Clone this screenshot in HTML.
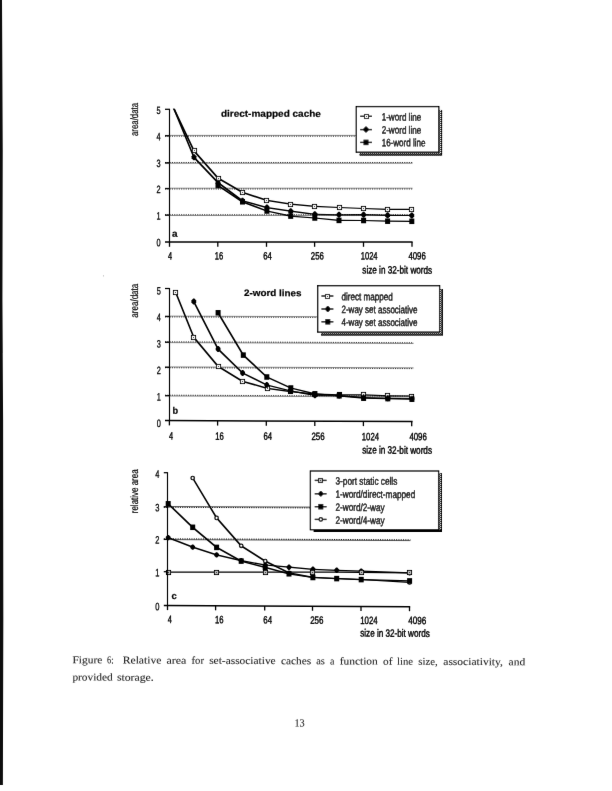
<!DOCTYPE html>
<html><head><meta charset="utf-8"><title>Figure 6</title>
<style>html,body{margin:0;padding:0;background:#fff}svg{display:block}text{text-rendering:geometricPrecision}</style>
</head><body>
<svg width="612" height="791" viewBox="0 0 612 791">
<defs>
<pattern id="dither" width="2" height="2" patternUnits="userSpaceOnUse"><rect width="2" height="2" fill="#111"/><rect x="0" y="0" width="1" height="1" fill="#fff"/><rect x="1" y="1" width="1" height="1" fill="#999"/></pattern>
<filter id="soft" x="0" y="0" width="612" height="791" filterUnits="userSpaceOnUse"><feConvolveMatrix order="3" kernelMatrix="0.0028 0.047 0.0028 0.047 0.8008 0.047 0.0028 0.047 0.0028" divisor="1" edgeMode="duplicate" preserveAlpha="false"/></filter>
<clipPath id="clipA"><rect x="160" y="108.7" width="300" height="140"/></clipPath>
</defs>
<rect width="612" height="791" fill="#fff"/>
<g filter="url(#soft)">
<polygon points="0,0 2,0 2.7,150 2.4,300 3.1,420 3.3,620 2.9,785 0,785" fill="#0a0a0a"/>

<rect x="103" y="275" width="0.7" height="1.6" fill="#bbb"/>
<line x1="165" y1="135.4" x2="412.5" y2="135.4" stroke="#808080" stroke-width="0.9"/>
<line x1="165" y1="136.20000000000002" x2="412.5" y2="136.20000000000002" stroke="#0a0a0a" stroke-width="0.9" stroke-dasharray="1.1 1.2"/>
<line x1="165" y1="163.3" x2="412.5" y2="163.3" stroke="#808080" stroke-width="0.9"/>
<line x1="165" y1="162.5" x2="412.5" y2="162.5" stroke="#0a0a0a" stroke-width="0.9" stroke-dasharray="1.1 1.2"/>
<line x1="165" y1="188.2" x2="412.5" y2="188.2" stroke="#808080" stroke-width="0.9"/>
<line x1="165" y1="189.0" x2="412.5" y2="189.0" stroke="#0a0a0a" stroke-width="0.9" stroke-dasharray="1.1 1.2"/>
<line x1="165" y1="215.5" x2="412.5" y2="215.5" stroke="#808080" stroke-width="0.9"/>
<line x1="165" y1="214.7" x2="412.5" y2="214.7" stroke="#0a0a0a" stroke-width="0.9" stroke-dasharray="1.1 1.2"/>
<path d="M169.38,99.88 L170.62,99.88 L194.62,150.18 L194.62,151.43 L193.38,151.43 L169.38,101.12Z M193.38,150.18 L194.62,150.18 L218.62,177.57 L218.62,178.82 L217.38,178.82 L193.38,151.43Z M217.38,177.57 L218.62,177.57 L243.12,191.78 L243.12,193.03 L241.88,193.03 L217.38,178.82Z M241.88,191.78 L243.12,191.78 L267.52,199.78 L267.52,201.03 L266.27,201.03 L241.88,193.03Z M266.27,199.78 L267.52,199.78 L291.32,203.57 L291.32,204.82 L290.07,204.82 L266.27,201.03Z M290.07,203.57 L291.32,203.57 L315.43,205.68 L315.43,206.93 L314.18,206.93 L290.07,204.82Z M314.18,205.68 L315.43,205.68 L339.62,206.88 L339.62,208.12 L338.38,208.12 L314.18,206.93Z M338.38,206.88 L339.62,206.88 L364.23,207.88 L364.23,209.12 L362.98,209.12 L338.38,208.12Z M362.98,207.88 L364.23,207.88 L388.23,208.68 L388.23,209.93 L386.98,209.93 L362.98,209.12Z M386.98,208.68 L388.23,208.68 L412.43,208.78 L412.43,210.03 L411.18,210.03 L386.98,209.93Z" fill="#000" clip-path="url(#clipA)"/>
<path d="M169.38,98.47 L170.62,98.47 L194.62,156.68 L194.62,157.93 L193.38,157.93 L169.38,99.72Z M193.38,156.68 L194.62,156.68 L218.62,182.07 L218.62,183.32 L217.38,183.32 L193.38,157.93Z M217.38,182.07 L218.62,182.07 L243.12,200.18 L243.12,201.43 L241.88,201.43 L217.38,183.32Z M241.88,200.18 L243.12,200.18 L267.52,206.97 L267.52,208.22 L266.27,208.22 L241.88,201.43Z M266.27,206.97 L267.52,206.97 L291.32,210.57 L291.32,211.82 L290.07,211.82 L266.27,208.22Z M290.07,210.57 L291.32,210.57 L315.43,213.68 L315.43,214.93 L314.18,214.93 L290.07,211.82Z M314.18,213.68 L315.43,213.68 L339.62,214.18 L339.62,215.43 L338.38,215.43 L314.18,214.93Z M338.38,214.18 L362.98,214.07 L364.23,214.07 L364.23,215.32 L339.62,215.43 L338.38,215.43Z M362.98,214.07 L364.23,214.07 L388.23,214.68 L388.23,215.93 L386.98,215.93 L362.98,215.32Z M386.98,214.68 L388.23,214.68 L412.43,214.88 L412.43,216.12 L411.18,216.12 L386.98,215.93Z" fill="#000" clip-path="url(#clipA)"/>
<path d="M217.38,184.88 L218.62,184.88 L243.12,201.18 L243.12,202.43 L241.88,202.43 L217.38,186.12Z M241.88,201.18 L243.12,201.18 L267.52,210.38 L267.52,211.62 L266.27,211.62 L241.88,202.43Z M266.27,210.38 L267.52,210.38 L291.32,215.47 L291.32,216.72 L290.07,216.72 L266.27,211.62Z M290.07,215.47 L291.32,215.47 L315.43,217.38 L315.43,218.62 L314.18,218.62 L290.07,216.72Z M314.18,217.38 L315.43,217.38 L339.62,219.78 L339.62,221.03 L338.38,221.03 L314.18,218.62Z M338.38,219.78 L339.62,219.78 L364.23,219.88 L364.23,221.12 L362.98,221.12 L338.38,221.03Z M362.98,219.88 L364.23,219.88 L388.23,220.57 L388.23,221.82 L386.98,221.82 L362.98,221.12Z M386.98,220.57 L388.23,220.57 L412.43,220.68 L412.43,221.93 L411.18,221.93 L386.98,221.82Z" fill="#000" clip-path="url(#clipA)"/>
<rect x="192.5" y="148.5" width="4" height="4" fill="#fff" stroke="#000" stroke-width="1.1"/>
<rect x="194.0" y="150.0" width="1" height="1" fill="#222"/>
<rect x="216.5" y="176.5" width="4" height="4" fill="#fff" stroke="#000" stroke-width="1.1"/>
<rect x="218.0" y="178.0" width="1" height="1" fill="#222"/>
<rect x="240.5" y="190.5" width="4" height="4" fill="#fff" stroke="#000" stroke-width="1.1"/>
<rect x="242.0" y="192.0" width="1" height="1" fill="#222"/>
<rect x="264.5" y="198.5" width="4" height="4" fill="#fff" stroke="#000" stroke-width="1.1"/>
<rect x="266.0" y="200.0" width="1" height="1" fill="#222"/>
<rect x="288.5" y="202.5" width="4" height="4" fill="#fff" stroke="#000" stroke-width="1.1"/>
<rect x="290.0" y="204.0" width="1" height="1" fill="#222"/>
<rect x="312.5" y="204.5" width="4" height="4" fill="#fff" stroke="#000" stroke-width="1.1"/>
<rect x="314.0" y="206.0" width="1" height="1" fill="#222"/>
<rect x="337.5" y="205.5" width="4" height="4" fill="#fff" stroke="#000" stroke-width="1.1"/>
<rect x="339.0" y="207.0" width="1" height="1" fill="#222"/>
<rect x="361.5" y="206.5" width="4" height="4" fill="#fff" stroke="#000" stroke-width="1.1"/>
<rect x="363.0" y="208.0" width="1" height="1" fill="#222"/>
<rect x="385.5" y="207.5" width="4" height="4" fill="#fff" stroke="#000" stroke-width="1.1"/>
<rect x="387.0" y="209.0" width="1" height="1" fill="#222"/>
<rect x="409.5" y="207.5" width="4" height="4" fill="#fff" stroke="#000" stroke-width="1.1"/>
<rect x="411.0" y="209.0" width="1" height="1" fill="#222"/>
<path d="M193.4,154.3 L194.6,154.3 L196.4,156.3 L196.4,158.3 L194.6,160.3 L193.4,160.3 L191.6,158.3 L191.6,156.3 Z" fill="#000"/>
<path d="M217.4,179.7 L218.6,179.7 L220.4,181.7 L220.4,183.7 L218.6,185.7 L217.4,185.7 L215.6,183.7 L215.6,181.7 Z" fill="#000"/>
<path d="M241.9,197.8 L243.1,197.8 L244.9,199.8 L244.9,201.8 L243.1,203.8 L241.9,203.8 L240.1,201.8 L240.1,199.8 Z" fill="#000"/>
<path d="M266.29999999999995,204.6 L267.5,204.6 L269.29999999999995,206.6 L269.29999999999995,208.6 L267.5,210.6 L266.29999999999995,210.6 L264.5,208.6 L264.5,206.6 Z" fill="#000"/>
<path d="M290.09999999999997,208.2 L291.3,208.2 L293.09999999999997,210.2 L293.09999999999997,212.2 L291.3,214.2 L290.09999999999997,214.2 L288.3,212.2 L288.3,210.2 Z" fill="#000"/>
<path d="M314.2,211.3 L315.40000000000003,211.3 L317.2,213.3 L317.2,215.3 L315.40000000000003,217.3 L314.2,217.3 L312.40000000000003,215.3 L312.40000000000003,213.3 Z" fill="#000"/>
<path d="M338.4,211.8 L339.6,211.8 L341.4,213.8 L341.4,215.8 L339.6,217.8 L338.4,217.8 L336.6,215.8 L336.6,213.8 Z" fill="#000"/>
<path d="M363.0,211.7 L364.20000000000005,211.7 L366.0,213.7 L366.0,215.7 L364.20000000000005,217.7 L363.0,217.7 L361.20000000000005,215.7 L361.20000000000005,213.7 Z" fill="#000"/>
<path d="M387.0,212.3 L388.20000000000005,212.3 L390.0,214.3 L390.0,216.3 L388.20000000000005,218.3 L387.0,218.3 L385.20000000000005,216.3 L385.20000000000005,214.3 Z" fill="#000"/>
<path d="M411.2,212.5 L412.40000000000003,212.5 L414.2,214.5 L414.2,216.5 L412.40000000000003,218.5 L411.2,218.5 L409.40000000000003,216.5 L409.40000000000003,214.5 Z" fill="#000"/>
<rect x="215.5" y="182.75" width="5.0" height="5.5" fill="#000"/>
<rect x="240.0" y="199.05" width="5.0" height="5.5" fill="#000"/>
<rect x="264.4" y="208.25" width="5.0" height="5.5" fill="#000"/>
<rect x="288.2" y="213.35" width="5.0" height="5.5" fill="#000"/>
<rect x="312.3" y="215.25" width="5.0" height="5.5" fill="#000"/>
<rect x="336.5" y="217.65" width="5.0" height="5.5" fill="#000"/>
<rect x="361.1" y="217.75" width="5.0" height="5.5" fill="#000"/>
<rect x="385.1" y="218.45" width="5.0" height="5.5" fill="#000"/>
<rect x="409.3" y="218.55" width="5.0" height="5.5" fill="#000"/>
<line x1="169.5" y1="108.8" x2="169.5" y2="242.7" stroke="#000" stroke-width="1.15" />
<line x1="165" y1="242.0" x2="412.6" y2="242.0" stroke="#000" stroke-width="1.5" />
<line x1="165" y1="109.3" x2="169.5" y2="109.3" stroke="#000" stroke-width="1.25" />
<line x1="165" y1="135.8" x2="169.5" y2="135.8" stroke="#000" stroke-width="1.25" />
<line x1="165" y1="162.9" x2="169.5" y2="162.9" stroke="#000" stroke-width="1.25" />
<line x1="165" y1="188.6" x2="169.5" y2="188.6" stroke="#000" stroke-width="1.25" />
<line x1="165" y1="215.1" x2="169.5" y2="215.1" stroke="#000" stroke-width="1.25" />
<line x1="169.5" y1="242.0" x2="169.5" y2="246.8" stroke="#000" stroke-width="1.3" />
<line x1="217.8" y1="242.0" x2="217.8" y2="246.8" stroke="#000" stroke-width="1.3" />
<line x1="266.5" y1="242.0" x2="266.5" y2="246.8" stroke="#000" stroke-width="1.3" />
<line x1="314.6" y1="242.0" x2="314.6" y2="246.8" stroke="#000" stroke-width="1.3" />
<line x1="363.5" y1="242.0" x2="363.5" y2="246.8" stroke="#000" stroke-width="1.3" />
<line x1="412" y1="242.0" x2="412" y2="246.8" stroke="#000" stroke-width="1.3" />
<text x="156.5" y="113.9" font-family="Liberation Sans, sans-serif" font-size="10.6" fill="#000" stroke="#000" stroke-width="0.3" textLength="4.1" lengthAdjust="spacingAndGlyphs" transform="rotate(0.12 156.5 113.9)">5</text>
<text x="156.5" y="140.3" font-family="Liberation Sans, sans-serif" font-size="10.6" fill="#000" stroke="#000" stroke-width="0.3" textLength="4.1" lengthAdjust="spacingAndGlyphs" transform="rotate(0.12 156.5 140.3)">4</text>
<text x="156.5" y="167.0" font-family="Liberation Sans, sans-serif" font-size="10.6" fill="#000" stroke="#000" stroke-width="0.3" textLength="4.1" lengthAdjust="spacingAndGlyphs" transform="rotate(0.12 156.5 167.0)">3</text>
<text x="156.5" y="193.1" font-family="Liberation Sans, sans-serif" font-size="10.6" fill="#000" stroke="#000" stroke-width="0.3" textLength="4.1" lengthAdjust="spacingAndGlyphs" transform="rotate(0.12 156.5 193.1)">2</text>
<text x="156.5" y="219.4" font-family="Liberation Sans, sans-serif" font-size="10.6" fill="#000" stroke="#000" stroke-width="0.3" textLength="4.1" lengthAdjust="spacingAndGlyphs" transform="rotate(0.12 156.5 219.4)">1</text>
<text x="156.5" y="246.2" font-family="Liberation Sans, sans-serif" font-size="10.6" fill="#000" stroke="#000" stroke-width="0.3" textLength="4.1" lengthAdjust="spacingAndGlyphs" transform="rotate(0.12 156.5 246.2)">0</text>
<text x="167.9" y="259.4" font-family="Liberation Sans, sans-serif" font-size="10.6" fill="#000" stroke="#000" stroke-width="0.42" textLength="4.1" lengthAdjust="spacingAndGlyphs" transform="rotate(0.12 167.9 259.4)">4</text>
<text x="214.7" y="259.4" font-family="Liberation Sans, sans-serif" font-size="10.6" fill="#000" stroke="#000" stroke-width="0.42" textLength="8.4" lengthAdjust="spacingAndGlyphs" transform="rotate(0.12 214.7 259.4)">16</text>
<text x="263.2" y="259.4" font-family="Liberation Sans, sans-serif" font-size="10.6" fill="#000" stroke="#000" stroke-width="0.42" textLength="8.6" lengthAdjust="spacingAndGlyphs" transform="rotate(0.12 263.2 259.4)">64</text>
<text x="310.8" y="259.4" font-family="Liberation Sans, sans-serif" font-size="10.6" fill="#000" stroke="#000" stroke-width="0.42" textLength="13" lengthAdjust="spacingAndGlyphs" transform="rotate(0.12 310.8 259.4)">256</text>
<text x="360.7" y="259.4" font-family="Liberation Sans, sans-serif" font-size="10.6" fill="#000" stroke="#000" stroke-width="0.42" textLength="16.9" lengthAdjust="spacingAndGlyphs" transform="rotate(0.12 360.7 259.4)">1024</text>
<text x="408.4" y="259.4" font-family="Liberation Sans, sans-serif" font-size="10.6" fill="#000" stroke="#000" stroke-width="0.42" textLength="17.4" lengthAdjust="spacingAndGlyphs" transform="rotate(0.12 408.4 259.4)">4096</text>
<text x="362.3" y="273.5" font-family="Liberation Sans, sans-serif" font-size="10.6" fill="#000" stroke="#000" stroke-width="0.42" textLength="69.9" lengthAdjust="spacingAndGlyphs" transform="rotate(0.12 362.3 273.5)">size in 32-bit words</text>
<text x="138" y="136.0" font-family="Liberation Sans, sans-serif" font-size="10.6" fill="#000" stroke="#000" stroke-width="0.2" textLength="33.1" lengthAdjust="spacingAndGlyphs" transform="rotate(-90 138 136.0)">area/data</text>
<text x="220.9" y="116.7" font-family="Liberation Sans, sans-serif" font-size="9.4" fill="#000" stroke="#000" stroke-width="0.2" font-weight="bold" textLength="100" lengthAdjust="spacingAndGlyphs" transform="rotate(0.12 220.9 116.7)">direct-mapped cache</text>
<text x="172" y="236.8" font-family="Liberation Sans, sans-serif" font-size="9.4" fill="#000" stroke="#000" stroke-width="0.2" font-weight="bold" textLength="5.5" lengthAdjust="spacingAndGlyphs" transform="rotate(0.12 172 236.8)">a</text>
<rect x="359.6" y="109.89999999999999" width="82.5" height="45.599999999999994" fill="url(#dither)"/>
<path d="M441.5,109.89999999999999 V154.9 H359.6" fill="none" stroke="#000" stroke-width="1.2"/>
<rect x="356.3" y="106.6" width="82.5" height="45.599999999999994" fill="#fff" stroke="#000" stroke-width="1.3"/>
<line x1="360.2" y1="116.3" x2="372" y2="116.3" stroke="#000" stroke-width="1.4" />
<rect x="364.5" y="114.5" width="4" height="4" fill="#fff" stroke="#000" stroke-width="1.1"/>
<rect x="366.0" y="116.0" width="1" height="1" fill="#222"/>
<text x="381.7" y="120.6" font-family="Liberation Sans, sans-serif" font-size="10.6" fill="#000" stroke="#000" stroke-width="0.42" textLength="39.5" lengthAdjust="spacingAndGlyphs" transform="rotate(0.12 381.7 120.6)">1-word line</text>
<line x1="360.2" y1="129.6" x2="372" y2="129.6" stroke="#000" stroke-width="1.4" />
<path d="M365.4,126.6 L366.6,126.6 L368.4,128.6 L368.4,130.6 L366.6,132.6 L365.4,132.6 L363.6,130.6 L363.6,128.6 Z" fill="#000"/>
<text x="381.7" y="133.6" font-family="Liberation Sans, sans-serif" font-size="10.6" fill="#000" stroke="#000" stroke-width="0.42" textLength="39.5" lengthAdjust="spacingAndGlyphs" transform="rotate(0.12 381.7 133.6)">2-word line</text>
<line x1="360.2" y1="142.4" x2="372" y2="142.4" stroke="#000" stroke-width="1.4" />
<rect x="363.5" y="139.65" width="5.0" height="5.5" fill="#000"/>
<text x="381.7" y="146.3" font-family="Liberation Sans, sans-serif" font-size="10.6" fill="#000" stroke="#000" stroke-width="0.42" textLength="43.7" lengthAdjust="spacingAndGlyphs" transform="rotate(0.12 381.7 146.3)">16-word line</text>
<line x1="165" y1="316.1" x2="413.5" y2="317.0" stroke="#808080" stroke-width="0.9"/>
<line x1="165" y1="316.9" x2="413.5" y2="317.79999999999995" stroke="#0a0a0a" stroke-width="0.9" stroke-dasharray="1.1 1.2"/>
<line x1="165" y1="342.59999999999997" x2="413.5" y2="343.49999999999994" stroke="#808080" stroke-width="0.9"/>
<line x1="165" y1="341.8" x2="413.5" y2="342.7" stroke="#0a0a0a" stroke-width="0.9" stroke-dasharray="1.1 1.2"/>
<line x1="165" y1="366.90000000000003" x2="413.5" y2="367.8" stroke="#808080" stroke-width="0.9"/>
<line x1="165" y1="367.7" x2="413.5" y2="368.59999999999997" stroke="#0a0a0a" stroke-width="0.9" stroke-dasharray="1.1 1.2"/>
<line x1="165" y1="396.0" x2="413.5" y2="396.9" stroke="#808080" stroke-width="0.9"/>
<line x1="165" y1="395.20000000000005" x2="413.5" y2="396.1" stroke="#0a0a0a" stroke-width="0.9" stroke-dasharray="1.1 1.2"/>
<path d="M175.2,292.0 L176.4,292.0 L194.4,336.7 L194.4,337.9 L193.2,337.9 L175.2,293.2Z M193.2,336.7 L194.4,336.7 L218.7,365.7 L218.7,366.9 L217.5,366.9 L193.2,337.9Z M217.5,365.7 L218.7,365.7 L243.2,380.7 L243.2,381.9 L242.0,381.9 L217.5,366.9Z M242.0,380.7 L243.2,380.7 L267.8,387.7 L267.8,388.9 L266.6,388.9 L242.0,381.9Z M266.6,387.7 L267.8,387.7 L291.4,391.1 L291.4,392.3 L290.2,392.3 L266.6,388.9Z M290.2,391.1 L291.4,391.1 L315.5,393.4 L315.5,394.6 L314.3,394.6 L290.2,392.3Z M314.3,393.4 L315.5,393.4 L339.8,394.3 L339.8,395.5 L338.6,395.5 L314.3,394.6Z M338.6,394.3 L364.2,394.3 L364.2,395.5 L338.6,395.5Z M363.0,394.3 L364.2,394.3 L388.4,395.3 L388.4,396.5 L387.2,396.5 L363.0,395.5Z M387.2,395.3 L388.4,395.3 L412.5,395.4 L412.5,396.6 L411.3,396.6 L387.2,396.5Z" fill="#000"/>
<path d="M193.2,301.0 L194.4,301.0 L218.7,348.5 L218.7,349.7 L217.5,349.7 L193.2,302.2Z M217.5,348.5 L218.7,348.5 L243.2,372.4 L243.2,373.6 L242.0,373.6 L217.5,349.7Z M242.0,372.4 L243.2,372.4 L267.4,384.4 L267.4,385.6 L266.2,385.6 L242.0,373.6Z M266.2,384.4 L267.4,384.4 L291.4,390.4 L291.4,391.6 L290.2,391.6 L266.2,385.6Z M290.2,390.4 L291.4,390.4 L315.5,394.7 L315.5,395.9 L314.3,395.9 L290.2,391.6Z M314.3,394.7 L315.5,394.7 L339.8,395.0 L339.8,396.2 L338.6,396.2 L314.3,395.9Z M338.6,395.0 L339.8,395.0 L364.2,396.9 L364.2,398.1 L363.0,398.1 L338.6,396.2Z M363.0,396.9 L364.2,396.9 L388.4,397.7 L388.4,398.9 L387.2,398.9 L363.0,398.1Z M387.2,397.7 L388.4,397.7 L412.5,398.1 L412.5,399.3 L411.3,399.3 L387.2,398.9Z" fill="#000"/>
<path d="M217.5,312.2 L218.7,312.2 L243.9,354.5 L243.9,355.7 L242.7,355.7 L217.5,313.4Z M242.7,354.5 L243.9,354.5 L267.4,376.4 L267.4,377.6 L266.2,377.6 L242.7,355.7Z M266.2,376.4 L267.4,376.4 L291.4,387.4 L291.4,388.6 L290.2,388.6 L266.2,377.6Z M290.2,387.4 L291.4,387.4 L315.5,393.2 L315.5,394.4 L314.3,394.4 L290.2,388.6Z M314.3,393.2 L315.5,393.2 L339.8,395.2 L339.8,396.4 L338.6,396.4 L314.3,394.4Z M338.6,395.2 L339.8,395.2 L364.2,397.6 L364.2,398.8 L363.0,398.8 L338.6,396.4Z M363.0,397.6 L364.2,397.6 L388.4,398.0 L388.4,399.2 L387.2,399.2 L363.0,398.8Z M387.2,398.0 L388.4,398.0 L412.5,398.6 L412.5,399.8 L411.3,399.8 L387.2,399.2Z" fill="#000"/>
<rect x="173.5" y="290.5" width="4" height="4" fill="#fff" stroke="#000" stroke-width="1.1"/>
<rect x="175.0" y="292.0" width="1" height="1" fill="#222"/>
<rect x="191.5" y="335.5" width="4" height="4" fill="#fff" stroke="#000" stroke-width="1.1"/>
<rect x="193.0" y="337.0" width="1" height="1" fill="#222"/>
<rect x="216.5" y="364.5" width="4" height="4" fill="#fff" stroke="#000" stroke-width="1.1"/>
<rect x="218.0" y="366.0" width="1" height="1" fill="#222"/>
<rect x="240.5" y="379.5" width="4" height="4" fill="#fff" stroke="#000" stroke-width="1.1"/>
<rect x="242.0" y="381.0" width="1" height="1" fill="#222"/>
<rect x="265.5" y="386.5" width="4" height="4" fill="#fff" stroke="#000" stroke-width="1.1"/>
<rect x="267.0" y="388.0" width="1" height="1" fill="#222"/>
<rect x="288.5" y="389.5" width="4" height="4" fill="#fff" stroke="#000" stroke-width="1.1"/>
<rect x="290.0" y="391.0" width="1" height="1" fill="#222"/>
<rect x="312.5" y="392.5" width="4" height="4" fill="#fff" stroke="#000" stroke-width="1.1"/>
<rect x="314.0" y="394.0" width="1" height="1" fill="#222"/>
<rect x="337.5" y="392.5" width="4" height="4" fill="#fff" stroke="#000" stroke-width="1.1"/>
<rect x="339.0" y="394.0" width="1" height="1" fill="#222"/>
<rect x="361.5" y="392.5" width="4" height="4" fill="#fff" stroke="#000" stroke-width="1.1"/>
<rect x="363.0" y="394.0" width="1" height="1" fill="#222"/>
<rect x="385.5" y="393.5" width="4" height="4" fill="#fff" stroke="#000" stroke-width="1.1"/>
<rect x="387.0" y="395.0" width="1" height="1" fill="#222"/>
<rect x="409.5" y="394.5" width="4" height="4" fill="#fff" stroke="#000" stroke-width="1.1"/>
<rect x="411.0" y="396.0" width="1" height="1" fill="#222"/>
<path d="M193.20000000000002,298.6 L194.4,298.6 L196.20000000000002,300.6 L196.20000000000002,302.6 L194.4,304.6 L193.20000000000002,304.6 L191.4,302.6 L191.4,300.6 Z" fill="#000"/>
<path d="M217.5,346.1 L218.7,346.1 L220.5,348.1 L220.5,350.1 L218.7,352.1 L217.5,352.1 L215.7,350.1 L215.7,348.1 Z" fill="#000"/>
<path d="M242.0,370.0 L243.2,370.0 L245.0,372.0 L245.0,374.0 L243.2,376.0 L242.0,376.0 L240.2,374.0 L240.2,372.0 Z" fill="#000"/>
<path d="M266.2,382.0 L267.40000000000003,382.0 L269.2,384.0 L269.2,386.0 L267.40000000000003,388.0 L266.2,388.0 L264.40000000000003,386.0 L264.40000000000003,384.0 Z" fill="#000"/>
<path d="M290.2,388.0 L291.40000000000003,388.0 L293.2,390.0 L293.2,392.0 L291.40000000000003,394.0 L290.2,394.0 L288.40000000000003,392.0 L288.40000000000003,390.0 Z" fill="#000"/>
<path d="M314.29999999999995,392.3 L315.5,392.3 L317.29999999999995,394.3 L317.29999999999995,396.3 L315.5,398.3 L314.29999999999995,398.3 L312.5,396.3 L312.5,394.3 Z" fill="#000"/>
<path d="M338.59999999999997,392.6 L339.8,392.6 L341.59999999999997,394.6 L341.59999999999997,396.6 L339.8,398.6 L338.59999999999997,398.6 L336.8,396.6 L336.8,394.6 Z" fill="#000"/>
<path d="M363.0,394.5 L364.20000000000005,394.5 L366.0,396.5 L366.0,398.5 L364.20000000000005,400.5 L363.0,400.5 L361.20000000000005,398.5 L361.20000000000005,396.5 Z" fill="#000"/>
<path d="M387.2,395.3 L388.40000000000003,395.3 L390.2,397.3 L390.2,399.3 L388.40000000000003,401.3 L387.2,401.3 L385.40000000000003,399.3 L385.40000000000003,397.3 Z" fill="#000"/>
<path d="M411.29999999999995,395.7 L412.5,395.7 L414.29999999999995,397.7 L414.29999999999995,399.7 L412.5,401.7 L411.29999999999995,401.7 L409.5,399.7 L409.5,397.7 Z" fill="#000"/>
<rect x="215.6" y="310.05" width="5.0" height="5.5" fill="#000"/>
<rect x="240.8" y="352.35" width="5.0" height="5.5" fill="#000"/>
<rect x="264.3" y="374.25" width="5.0" height="5.5" fill="#000"/>
<rect x="288.3" y="385.25" width="5.0" height="5.5" fill="#000"/>
<rect x="312.4" y="391.05" width="5.0" height="5.5" fill="#000"/>
<rect x="336.7" y="393.05" width="5.0" height="5.5" fill="#000"/>
<rect x="361.1" y="395.45" width="5.0" height="5.5" fill="#000"/>
<rect x="385.3" y="395.85" width="5.0" height="5.5" fill="#000"/>
<rect x="409.4" y="396.45" width="5.0" height="5.5" fill="#000"/>
<line x1="169.5" y1="288.0" x2="169.5" y2="421.3" stroke="#000" stroke-width="1.15" />
<line x1="165" y1="420.6" x2="412.6" y2="421.5" stroke="#000" stroke-width="1.5" />
<line x1="165" y1="288.5" x2="169.5" y2="288.5" stroke="#000" stroke-width="1.25" />
<line x1="165" y1="316.5" x2="169.5" y2="316.5" stroke="#000" stroke-width="1.25" />
<line x1="165" y1="342.2" x2="169.5" y2="342.2" stroke="#000" stroke-width="1.25" />
<line x1="165" y1="367.3" x2="169.5" y2="367.3" stroke="#000" stroke-width="1.25" />
<line x1="165" y1="395.6" x2="169.5" y2="395.6" stroke="#000" stroke-width="1.25" />
<line x1="169.4" y1="420.5977685950414" x2="169.4" y2="425.3977685950413" stroke="#000" stroke-width="1.3" />
<line x1="217.6" y1="420.7770247933884" x2="217.6" y2="425.5770247933884" stroke="#000" stroke-width="1.3" />
<line x1="266.3" y1="420.9581404958678" x2="266.3" y2="425.75814049586774" stroke="#000" stroke-width="1.3" />
<line x1="314.8" y1="421.13851239669424" x2="314.8" y2="425.9385123966942" stroke="#000" stroke-width="1.3" />
<line x1="363.4" y1="421.3192561983471" x2="363.4" y2="426.11925619834705" stroke="#000" stroke-width="1.3" />
<line x1="411.7" y1="421.49888429752065" x2="411.7" y2="426.2988842975206" stroke="#000" stroke-width="1.3" />
<text x="156.7" y="294.4" font-family="Liberation Sans, sans-serif" font-size="10.6" fill="#000" stroke="#000" stroke-width="0.3" textLength="4.1" lengthAdjust="spacingAndGlyphs" transform="rotate(0.25 156.7 294.4)">5</text>
<text x="156.7" y="320.9" font-family="Liberation Sans, sans-serif" font-size="10.6" fill="#000" stroke="#000" stroke-width="0.3" textLength="4.1" lengthAdjust="spacingAndGlyphs" transform="rotate(0.25 156.7 320.9)">4</text>
<text x="156.7" y="347.4" font-family="Liberation Sans, sans-serif" font-size="10.6" fill="#000" stroke="#000" stroke-width="0.3" textLength="4.1" lengthAdjust="spacingAndGlyphs" transform="rotate(0.25 156.7 347.4)">3</text>
<text x="156.7" y="373.9" font-family="Liberation Sans, sans-serif" font-size="10.6" fill="#000" stroke="#000" stroke-width="0.3" textLength="4.1" lengthAdjust="spacingAndGlyphs" transform="rotate(0.25 156.7 373.9)">2</text>
<text x="156.7" y="400.4" font-family="Liberation Sans, sans-serif" font-size="10.6" fill="#000" stroke="#000" stroke-width="0.3" textLength="4.1" lengthAdjust="spacingAndGlyphs" transform="rotate(0.25 156.7 400.4)">1</text>
<text x="156.7" y="426.9" font-family="Liberation Sans, sans-serif" font-size="10.6" fill="#000" stroke="#000" stroke-width="0.3" textLength="4.1" lengthAdjust="spacingAndGlyphs" transform="rotate(0.25 156.7 426.9)">0</text>
<text x="168.9" y="439.6" font-family="Liberation Sans, sans-serif" font-size="10.6" fill="#000" stroke="#000" stroke-width="0.42" textLength="4.1" lengthAdjust="spacingAndGlyphs" transform="rotate(0.25 168.9 439.6)">4</text>
<text x="215.3" y="439.7" font-family="Liberation Sans, sans-serif" font-size="10.6" fill="#000" stroke="#000" stroke-width="0.42" textLength="8.5" lengthAdjust="spacingAndGlyphs" transform="rotate(0.25 215.3 439.7)">16</text>
<text x="263.4" y="439.8" font-family="Liberation Sans, sans-serif" font-size="10.6" fill="#000" stroke="#000" stroke-width="0.42" textLength="8.6" lengthAdjust="spacingAndGlyphs" transform="rotate(0.25 263.4 439.8)">64</text>
<text x="311.4" y="440.0" font-family="Liberation Sans, sans-serif" font-size="10.6" fill="#000" stroke="#000" stroke-width="0.42" textLength="13.2" lengthAdjust="spacingAndGlyphs" transform="rotate(0.25 311.4 440.0)">256</text>
<text x="361.8" y="440.2" font-family="Liberation Sans, sans-serif" font-size="10.6" fill="#000" stroke="#000" stroke-width="0.42" textLength="17.2" lengthAdjust="spacingAndGlyphs" transform="rotate(0.25 361.8 440.2)">1024</text>
<text x="409.4" y="440.3" font-family="Liberation Sans, sans-serif" font-size="10.6" fill="#000" stroke="#000" stroke-width="0.42" textLength="17.4" lengthAdjust="spacingAndGlyphs" transform="rotate(0.25 409.4 440.3)">4096</text>
<text x="362.2" y="453.5" font-family="Liberation Sans, sans-serif" font-size="10.6" fill="#000" stroke="#000" stroke-width="0.42" textLength="69.8" lengthAdjust="spacingAndGlyphs" transform="rotate(0.25 362.2 453.5)">size in 32-bit words</text>
<text x="138" y="317.7" font-family="Liberation Sans, sans-serif" font-size="10.6" fill="#000" stroke="#000" stroke-width="0.2" textLength="34.0" lengthAdjust="spacingAndGlyphs" transform="rotate(-90 138 317.7)">area/data</text>
<text x="244" y="296" font-family="Liberation Sans, sans-serif" font-size="9.4" fill="#000" stroke="#000" stroke-width="0.2" font-weight="bold" textLength="57.6" lengthAdjust="spacingAndGlyphs" transform="rotate(0.25 244 296)">2-word lines</text>
<text x="172.5" y="413.7" font-family="Liberation Sans, sans-serif" font-size="9.4" fill="#000" stroke="#000" stroke-width="0.2" font-weight="bold" textLength="5.6" lengthAdjust="spacingAndGlyphs" transform="rotate(0.25 172.5 413.7)">b</text>
<rect x="321.0" y="289.0" width="121.90000000000003" height="46.400000000000034" fill="url(#dither)"/>
<path d="M442.3,289.0 V334.8 H321.0" fill="none" stroke="#000" stroke-width="1.2"/>
<rect x="317.7" y="285.7" width="121.90000000000003" height="46.400000000000034" fill="#fff" stroke="#000" stroke-width="1.3"/>
<line x1="321.4" y1="296.0" x2="333.4" y2="296.0" stroke="#000" stroke-width="1.4" />
<rect x="325.5" y="294.5" width="4" height="4" fill="#fff" stroke="#000" stroke-width="1.1"/>
<rect x="327.0" y="296.0" width="1" height="1" fill="#222"/>
<text x="341.5" y="300.2" font-family="Liberation Sans, sans-serif" font-size="10.6" fill="#000" stroke="#000" stroke-width="0.42" textLength="51.2" lengthAdjust="spacingAndGlyphs" transform="rotate(0.25 341.5 300.2)">direct mapped</text>
<line x1="321.4" y1="309.0" x2="333.4" y2="309.0" stroke="#000" stroke-width="1.4" />
<path d="M327.2,306.0 L328.40000000000003,306.0 L330.2,308.0 L330.2,310.0 L328.40000000000003,312.0 L327.2,312.0 L325.40000000000003,310.0 L325.40000000000003,308.0 Z" fill="#000"/>
<text x="341.5" y="313.0" font-family="Liberation Sans, sans-serif" font-size="10.6" fill="#000" stroke="#000" stroke-width="0.42" textLength="76" lengthAdjust="spacingAndGlyphs" transform="rotate(0.25 341.5 313.0)">2-way set associative</text>
<line x1="321.4" y1="321.8" x2="333.4" y2="321.8" stroke="#000" stroke-width="1.4" />
<rect x="325.3" y="319.05" width="5.0" height="5.5" fill="#000"/>
<text x="341.5" y="325.8" font-family="Liberation Sans, sans-serif" font-size="10.6" fill="#000" stroke="#000" stroke-width="0.42" textLength="76" lengthAdjust="spacingAndGlyphs" transform="rotate(0.25 341.5 325.8)">4-way set associative</text>
<line x1="163.8" y1="506.5" x2="410.4" y2="507.5" stroke="#585858" stroke-width="1.0"/>
<line x1="163.8" y1="507.29999999999995" x2="410.4" y2="508.29999999999995" stroke="#000" stroke-width="1.0" stroke-dasharray="1.1 1.2"/>
<line x1="163.8" y1="539.6" x2="410.4" y2="540.6" stroke="#585858" stroke-width="1.0"/>
<line x1="163.8" y1="538.8000000000001" x2="410.4" y2="539.8000000000001" stroke="#000" stroke-width="1.0" stroke-dasharray="1.1 1.2"/>
<path d="M167.57,571.58 L193.32,571.58 L193.32,572.83 L167.57,572.83Z M192.07,571.58 L217.22,571.58 L217.22,572.83 L192.07,572.83Z M215.97,571.58 L241.82,571.58 L241.82,572.83 L215.97,572.83Z M240.57,571.58 L265.82,571.58 L265.82,572.83 L240.57,572.83Z M264.57,571.58 L289.62,571.58 L289.62,572.83 L264.57,572.83Z M288.38,571.58 L313.52,571.58 L313.52,572.83 L288.38,572.83Z M312.27,571.58 L337.32,571.58 L337.32,572.83 L312.27,572.83Z M336.07,571.58 L337.32,571.58 L361.82,571.78 L361.82,573.03 L360.57,573.03 L336.07,572.83Z M360.57,571.78 L361.82,571.78 L410.23,572.28 L410.23,573.53 L408.98,573.53 L360.57,573.03Z" fill="#000"/>
<path d="M167.62,537.02 L168.77,537.02 L193.27,546.52 L193.27,547.68 L192.12,547.68 L167.62,538.18Z M192.12,546.52 L193.27,546.52 L217.17,554.32 L217.17,555.48 L216.03,555.48 L192.12,547.68Z M216.03,554.32 L217.17,554.32 L241.77,560.02 L241.77,561.18 L240.62,561.18 L216.03,555.48Z M240.62,560.02 L241.77,560.02 L265.77,564.42 L265.77,565.58 L264.62,565.58 L240.62,561.18Z M264.62,564.42 L265.77,564.42 L289.57,566.62 L289.57,567.78 L288.43,567.78 L264.62,565.58Z M288.43,566.62 L289.57,566.62 L313.47,568.72 L313.47,569.88 L312.32,569.88 L288.43,567.78Z M312.32,568.72 L313.47,568.72 L337.27,569.72 L337.27,570.88 L336.12,570.88 L312.32,569.88Z M336.12,569.72 L337.27,569.72 L361.77,570.52 L361.77,571.68 L360.62,571.68 L336.12,570.88Z M360.62,570.52 L361.77,570.52 L410.18,572.32 L410.18,573.48 L409.03,573.48 L360.62,571.68Z" fill="#000"/>
<path d="M167.62,503.23 L168.77,503.23 L193.27,526.72 L193.27,527.88 L192.12,527.88 L167.62,504.38Z M192.12,526.72 L193.27,526.72 L217.17,546.82 L217.17,547.98 L216.03,547.98 L192.12,527.88Z M216.03,546.82 L217.17,546.82 L241.77,560.52 L241.77,561.68 L240.62,561.68 L216.03,547.98Z M240.62,560.52 L241.77,560.52 L265.77,566.72 L265.77,567.88 L264.62,567.88 L240.62,561.68Z M264.62,566.72 L265.77,566.72 L289.57,573.22 L289.57,574.38 L288.43,574.38 L264.62,567.88Z M288.43,573.22 L289.57,573.22 L313.47,576.92 L313.47,578.08 L312.32,578.08 L288.43,574.38Z M312.32,576.92 L313.47,576.92 L337.27,578.02 L337.27,579.18 L336.12,579.18 L312.32,578.08Z M336.12,578.02 L337.27,578.02 L361.77,579.02 L361.77,580.18 L360.62,580.18 L336.12,579.18Z M360.62,579.02 L361.77,579.02 L410.18,580.32 L410.18,581.48 L409.03,581.48 L360.62,580.18Z" fill="#000"/>
<path d="M192.12,477.43 L193.27,477.43 L217.17,517.32 L217.17,518.48 L216.03,518.48 L192.12,478.57Z M216.03,517.32 L217.17,517.32 L241.77,545.22 L241.77,546.38 L240.62,546.38 L216.03,518.48Z M240.62,545.22 L241.77,545.22 L265.77,560.52 L265.77,561.68 L264.62,561.68 L240.62,546.38Z M264.62,560.52 L265.77,560.52 L289.57,572.22 L289.57,573.38 L288.43,573.38 L264.62,561.68Z M288.43,572.22 L289.57,572.22 L313.47,576.72 L313.47,577.88 L312.32,577.88 L288.43,573.38Z M312.32,576.72 L313.47,576.72 L337.27,577.92 L337.27,579.08 L336.12,579.08 L312.32,577.88Z M336.12,577.92 L337.27,577.92 L361.77,578.92 L361.77,580.08 L360.62,580.08 L336.12,579.08Z M360.62,578.92 L361.77,578.92 L410.18,581.82 L410.18,582.98 L409.03,582.98 L360.62,580.08Z" fill="#000"/>
<circle cx="192.7" cy="478.0" r="1.7" fill="#fff" stroke="#000" stroke-width="1.3"/>
<circle cx="216.6" cy="517.9" r="1.7" fill="#fff" stroke="#000" stroke-width="1.3"/>
<circle cx="241.2" cy="545.8" r="1.7" fill="#fff" stroke="#000" stroke-width="1.3"/>
<circle cx="265.2" cy="561.1" r="1.7" fill="#fff" stroke="#000" stroke-width="1.3"/>
<circle cx="289.0" cy="572.8" r="1.7" fill="#fff" stroke="#000" stroke-width="1.3"/>
<circle cx="312.9" cy="577.3" r="1.7" fill="#fff" stroke="#000" stroke-width="1.3"/>
<circle cx="336.7" cy="578.5" r="1.7" fill="#fff" stroke="#000" stroke-width="1.3"/>
<circle cx="361.2" cy="579.5" r="1.7" fill="#fff" stroke="#000" stroke-width="1.3"/>
<circle cx="409.6" cy="582.4" r="1.7" fill="#fff" stroke="#000" stroke-width="1.3"/>
<rect x="165.7" y="501.05" width="5.0" height="5.5" fill="#000"/>
<rect x="190.2" y="524.55" width="5.0" height="5.5" fill="#000"/>
<rect x="214.1" y="544.65" width="5.0" height="5.5" fill="#000"/>
<rect x="238.7" y="558.35" width="5.0" height="5.5" fill="#000"/>
<rect x="262.7" y="564.55" width="5.0" height="5.5" fill="#000"/>
<rect x="286.5" y="571.05" width="5.0" height="5.5" fill="#000"/>
<rect x="310.4" y="574.75" width="5.0" height="5.5" fill="#000"/>
<rect x="334.2" y="575.85" width="5.0" height="5.5" fill="#000"/>
<rect x="358.7" y="576.85" width="5.0" height="5.5" fill="#000"/>
<rect x="407.1" y="578.15" width="5.0" height="5.5" fill="#000"/>
<path d="M167.6,534.9 L168.79999999999998,534.9 L170.6,536.8000000000001 L170.6,538.4 L168.79999999999998,540.3000000000001 L167.6,540.3000000000001 L165.79999999999998,538.4 L165.79999999999998,536.8000000000001 Z" fill="#000"/>
<path d="M192.1,544.4 L193.29999999999998,544.4 L195.1,546.3000000000001 L195.1,547.9 L193.29999999999998,549.8000000000001 L192.1,549.8000000000001 L190.29999999999998,547.9 L190.29999999999998,546.3000000000001 Z" fill="#000"/>
<path d="M216.0,552.1999999999999 L217.2,552.1999999999999 L219.0,554.1 L219.0,555.6999999999999 L217.2,557.6 L216.0,557.6 L214.2,555.6999999999999 L214.2,554.1 Z" fill="#000"/>
<path d="M240.6,557.9 L241.79999999999998,557.9 L243.6,559.8000000000001 L243.6,561.4 L241.79999999999998,563.3000000000001 L240.6,563.3000000000001 L238.79999999999998,561.4 L238.79999999999998,559.8000000000001 Z" fill="#000"/>
<path d="M264.59999999999997,562.3 L265.8,562.3 L267.59999999999997,564.2 L267.59999999999997,565.8 L265.8,567.7 L264.59999999999997,567.7 L262.8,565.8 L262.8,564.2 Z" fill="#000"/>
<path d="M288.4,564.5 L289.6,564.5 L291.4,566.4000000000001 L291.4,568.0 L289.6,569.9000000000001 L288.4,569.9000000000001 L286.6,568.0 L286.6,566.4000000000001 Z" fill="#000"/>
<path d="M312.29999999999995,566.5999999999999 L313.5,566.5999999999999 L315.29999999999995,568.5 L315.29999999999995,570.0999999999999 L313.5,572.0 L312.29999999999995,572.0 L310.5,570.0999999999999 L310.5,568.5 Z" fill="#000"/>
<path d="M336.09999999999997,567.5999999999999 L337.3,567.5999999999999 L339.09999999999997,569.5 L339.09999999999997,571.0999999999999 L337.3,573.0 L336.09999999999997,573.0 L334.3,571.0999999999999 L334.3,569.5 Z" fill="#000"/>
<path d="M360.59999999999997,568.4 L361.8,568.4 L363.59999999999997,570.3000000000001 L363.59999999999997,571.9 L361.8,573.8000000000001 L360.59999999999997,573.8000000000001 L358.8,571.9 L358.8,570.3000000000001 Z" fill="#000"/>
<path d="M409.0,570.1999999999999 L410.20000000000005,570.1999999999999 L412.0,572.1 L412.0,573.6999999999999 L410.20000000000005,575.6 L409.0,575.6 L407.20000000000005,573.6999999999999 L407.20000000000005,572.1 Z" fill="#000"/>
<rect x="166.5" y="570.5" width="4" height="4" fill="#c4c4c4" stroke="#000" stroke-width="1.1"/>
<rect x="168.0" y="572.0" width="1" height="1" fill="#222"/>
<rect x="214.5" y="570.5" width="4" height="4" fill="#c4c4c4" stroke="#000" stroke-width="1.1"/>
<rect x="216.0" y="572.0" width="1" height="1" fill="#222"/>
<rect x="263.5" y="570.5" width="4" height="4" fill="#c4c4c4" stroke="#000" stroke-width="1.1"/>
<rect x="265.0" y="572.0" width="1" height="1" fill="#222"/>
<rect x="310.5" y="570.5" width="4" height="4" fill="#c4c4c4" stroke="#000" stroke-width="1.1"/>
<rect x="312.0" y="572.0" width="1" height="1" fill="#222"/>
<rect x="359.5" y="570.5" width="4" height="4" fill="#c4c4c4" stroke="#000" stroke-width="1.1"/>
<rect x="361.0" y="572.0" width="1" height="1" fill="#222"/>
<rect x="407.5" y="570.5" width="4" height="4" fill="#c4c4c4" stroke="#000" stroke-width="1.1"/>
<rect x="409.0" y="572.0" width="1" height="1" fill="#222"/>
<line x1="167.5" y1="472.2" x2="167.5" y2="606.3000000000001" stroke="#000" stroke-width="1.15" />
<line x1="163.8" y1="605.6" x2="410.20000000000005" y2="606.7" stroke="#000" stroke-width="1.5" />
<line x1="163.8" y1="472.7" x2="167.5" y2="472.7" stroke="#000" stroke-width="1.25" />
<line x1="163.8" y1="506.9" x2="167.5" y2="506.9" stroke="#000" stroke-width="1.25" />
<line x1="163.8" y1="539.3" x2="167.5" y2="539.3" stroke="#000" stroke-width="1.25" />
<line x1="163.8" y1="571.7" x2="167.5" y2="571.7" stroke="#000" stroke-width="1.25" />
<line x1="167.5" y1="605.5977272727273" x2="167.5" y2="610.0977272727273" stroke="#000" stroke-width="1.3" />
<line x1="215.6" y1="605.8163636363637" x2="215.6" y2="610.3163636363637" stroke="#000" stroke-width="1.3" />
<line x1="264.7" y1="606.0395454545455" x2="264.7" y2="610.5395454545455" stroke="#000" stroke-width="1.3" />
<line x1="312.5" y1="606.2568181818182" x2="312.5" y2="610.7568181818182" stroke="#000" stroke-width="1.3" />
<line x1="361.0" y1="606.4772727272727" x2="361.0" y2="610.9772727272727" stroke="#000" stroke-width="1.3" />
<line x1="409.5" y1="606.6977272727273" x2="409.5" y2="611.1977272727273" stroke="#000" stroke-width="1.3" />
<text x="155.2" y="477.8" font-family="Liberation Sans, sans-serif" font-size="10.6" fill="#000" stroke="#000" stroke-width="0.3" textLength="4.2" lengthAdjust="spacingAndGlyphs" transform="rotate(0.25 155.2 477.8)">4</text>
<text x="155.2" y="511.2" font-family="Liberation Sans, sans-serif" font-size="10.6" fill="#000" stroke="#000" stroke-width="0.3" textLength="4.2" lengthAdjust="spacingAndGlyphs" transform="rotate(0.25 155.2 511.2)">3</text>
<text x="155.2" y="543.5" font-family="Liberation Sans, sans-serif" font-size="10.6" fill="#000" stroke="#000" stroke-width="0.3" textLength="4.2" lengthAdjust="spacingAndGlyphs" transform="rotate(0.25 155.2 543.5)">2</text>
<text x="155.2" y="576.3" font-family="Liberation Sans, sans-serif" font-size="10.6" fill="#000" stroke="#000" stroke-width="0.3" textLength="4.2" lengthAdjust="spacingAndGlyphs" transform="rotate(0.25 155.2 576.3)">1</text>
<text x="155.2" y="610.2" font-family="Liberation Sans, sans-serif" font-size="10.6" fill="#000" stroke="#000" stroke-width="0.3" textLength="4.2" lengthAdjust="spacingAndGlyphs" transform="rotate(0.25 155.2 610.2)">0</text>
<text x="167.8" y="623.1" font-family="Liberation Sans, sans-serif" font-size="10.6" fill="#000" stroke="#000" stroke-width="0.42" textLength="4.1" lengthAdjust="spacingAndGlyphs" transform="rotate(0.25 167.8 623.1)">4</text>
<text x="214.9" y="623.3" font-family="Liberation Sans, sans-serif" font-size="10.6" fill="#000" stroke="#000" stroke-width="0.42" textLength="8.5" lengthAdjust="spacingAndGlyphs" transform="rotate(0.25 214.9 623.3)">16</text>
<text x="263.3" y="623.5" font-family="Liberation Sans, sans-serif" font-size="10.6" fill="#000" stroke="#000" stroke-width="0.42" textLength="8.7" lengthAdjust="spacingAndGlyphs" transform="rotate(0.25 263.3 623.5)">64</text>
<text x="310.2" y="623.7" font-family="Liberation Sans, sans-serif" font-size="10.6" fill="#000" stroke="#000" stroke-width="0.42" textLength="13.3" lengthAdjust="spacingAndGlyphs" transform="rotate(0.25 310.2 623.7)">256</text>
<text x="360.2" y="623.9" font-family="Liberation Sans, sans-serif" font-size="10.6" fill="#000" stroke="#000" stroke-width="0.42" textLength="17.4" lengthAdjust="spacingAndGlyphs" transform="rotate(0.25 360.2 623.9)">1024</text>
<text x="408.2" y="624.1" font-family="Liberation Sans, sans-serif" font-size="10.6" fill="#000" stroke="#000" stroke-width="0.42" textLength="18.0" lengthAdjust="spacingAndGlyphs" transform="rotate(0.25 408.2 624.1)">4096</text>
<text x="360.2" y="636.6" font-family="Liberation Sans, sans-serif" font-size="10.6" fill="#000" stroke="#000" stroke-width="0.42" textLength="69.6" lengthAdjust="spacingAndGlyphs" transform="rotate(0.25 360.2 636.6)">size in 32-bit words</text>
<text x="137.8" y="513.2" font-family="Liberation Sans, sans-serif" font-size="10.6" fill="#000" stroke="#000" stroke-width="0.2" textLength="43.8" lengthAdjust="spacingAndGlyphs" transform="rotate(-90 137.8 513.2)">relative area</text>
<text x="171.5" y="599" font-family="Liberation Sans, sans-serif" font-size="9.4" fill="#000" stroke="#000" stroke-width="0.2" font-weight="bold" textLength="5.2" lengthAdjust="spacingAndGlyphs" transform="rotate(0.25 171.5 599)">c</text>
<rect x="313.79999999999995" y="473.2" width="128.20000000000005" height="58.700000000000045" fill="url(#dither)"/>
<rect x="313.79999999999995" y="529.7" width="128.20000000000005" height="2.2" fill="#000"/>
<path d="M441.4,473.2 V531.3000000000001 H313.79999999999995" fill="none" stroke="#000" stroke-width="1.2"/>
<rect x="310.4" y="471.0" width="128.20000000000005" height="58.700000000000045" fill="#fff" stroke="#000" stroke-width="1.3"/>
<line x1="314.7" y1="480.4" x2="326.6" y2="480.4" stroke="#000" stroke-width="1.4" />
<rect x="318.5" y="478.5" width="4" height="4" fill="#c4c4c4" stroke="#000" stroke-width="1.1"/>
<rect x="320.0" y="480.0" width="1" height="1" fill="#222"/>
<text x="335.5" y="484.6" font-family="Liberation Sans, sans-serif" font-size="10.6" fill="#000" stroke="#000" stroke-width="0.42" textLength="61.8" lengthAdjust="spacingAndGlyphs" transform="rotate(0.25 335.5 484.6)">3-port static cells</text>
<line x1="314.7" y1="493.8" x2="326.6" y2="493.8" stroke="#000" stroke-width="1.4" />
<path d="M320.2,491.1 L321.40000000000003,491.1 L323.2,493.0 L323.2,494.6 L321.40000000000003,496.5 L320.2,496.5 L318.40000000000003,494.6 L318.40000000000003,493.0 Z" fill="#000"/>
<text x="335.5" y="497.7" font-family="Liberation Sans, sans-serif" font-size="10.6" fill="#000" stroke="#000" stroke-width="0.42" textLength="79.7" lengthAdjust="spacingAndGlyphs" transform="rotate(0.25 335.5 497.7)">1-word/direct-mapped</text>
<line x1="314.7" y1="506.7" x2="326.6" y2="506.7" stroke="#000" stroke-width="1.4" />
<rect x="318.3" y="503.95" width="5.0" height="5.5" fill="#000"/>
<text x="335.5" y="510.8" font-family="Liberation Sans, sans-serif" font-size="10.6" fill="#000" stroke="#000" stroke-width="0.42" textLength="49.1" lengthAdjust="spacingAndGlyphs" transform="rotate(0.25 335.5 510.8)">2-word/2-way</text>
<line x1="314.7" y1="519.4" x2="326.6" y2="519.4" stroke="#000" stroke-width="1.4" />
<circle cx="320.8" cy="519.4" r="1.7" fill="#fff" stroke="#000" stroke-width="1.3"/>
<text x="335.5" y="523.8" font-family="Liberation Sans, sans-serif" font-size="10.6" fill="#000" stroke="#000" stroke-width="0.42" textLength="49.1" lengthAdjust="spacingAndGlyphs" transform="rotate(0.25 335.5 523.8)">2-word/4-way</text>
<text x="72.5" y="663.2" font-family="Liberation Serif, serif" font-size="10.5" fill="#1a1a1a" stroke="#1a1a1a" stroke-width="0.08" textLength="29.8" lengthAdjust="spacingAndGlyphs" transform="rotate(0.27 72.5 663.2)">Figure</text>
<text x="107.0" y="663.36" font-family="Liberation Serif, serif" font-size="10.5" fill="#1a1a1a" stroke="#1a1a1a" stroke-width="0.08" textLength="6.6" lengthAdjust="spacingAndGlyphs" transform="rotate(0.27 107.0 663.36)">6:</text>
<text x="122.8" y="663.44" font-family="Liberation Serif, serif" font-size="10.5" fill="#1a1a1a" stroke="#1a1a1a" stroke-width="0.08" textLength="38.5" lengthAdjust="spacingAndGlyphs" transform="rotate(0.27 122.8 663.44)">Relative</text>
<text x="166.5" y="663.64" font-family="Liberation Serif, serif" font-size="10.5" fill="#1a1a1a" stroke="#1a1a1a" stroke-width="0.08" textLength="19.8" lengthAdjust="spacingAndGlyphs" transform="rotate(0.27 166.5 663.64)">area</text>
<text x="191.5" y="663.76" font-family="Liberation Serif, serif" font-size="10.5" fill="#1a1a1a" stroke="#1a1a1a" stroke-width="0.08" textLength="12.5" lengthAdjust="spacingAndGlyphs" transform="rotate(0.27 191.5 663.76)">for</text>
<text x="209.2" y="663.84" font-family="Liberation Serif, serif" font-size="10.5" fill="#1a1a1a" stroke="#1a1a1a" stroke-width="0.08" textLength="66.5" lengthAdjust="spacingAndGlyphs" transform="rotate(0.27 209.2 663.84)">set-associative</text>
<text x="281.0" y="664.18" font-family="Liberation Serif, serif" font-size="10.5" fill="#1a1a1a" stroke="#1a1a1a" stroke-width="0.08" textLength="30.2" lengthAdjust="spacingAndGlyphs" transform="rotate(0.27 281.0 664.18)">caches</text>
<text x="316.2" y="664.35" font-family="Liberation Serif, serif" font-size="10.5" fill="#1a1a1a" stroke="#1a1a1a" stroke-width="0.08" textLength="8.6" lengthAdjust="spacingAndGlyphs" transform="rotate(0.27 316.2 664.35)">as</text>
<text x="329.9" y="664.41" font-family="Liberation Serif, serif" font-size="10.5" fill="#1a1a1a" stroke="#1a1a1a" stroke-width="0.08" textLength="4.4" lengthAdjust="spacingAndGlyphs" transform="rotate(0.27 329.9 664.41)">a</text>
<text x="339.7" y="664.46" font-family="Liberation Serif, serif" font-size="10.5" fill="#1a1a1a" stroke="#1a1a1a" stroke-width="0.08" textLength="38.1" lengthAdjust="spacingAndGlyphs" transform="rotate(0.27 339.7 664.46)">function</text>
<text x="383.0" y="664.66" font-family="Liberation Serif, serif" font-size="10.5" fill="#1a1a1a" stroke="#1a1a1a" stroke-width="0.08" textLength="9.4" lengthAdjust="spacingAndGlyphs" transform="rotate(0.27 383.0 664.66)">of</text>
<text x="397.0" y="664.73" font-family="Liberation Serif, serif" font-size="10.5" fill="#1a1a1a" stroke="#1a1a1a" stroke-width="0.08" textLength="15.9" lengthAdjust="spacingAndGlyphs" transform="rotate(0.27 397.0 664.73)">line</text>
<text x="418.3" y="664.83" font-family="Liberation Serif, serif" font-size="10.5" fill="#1a1a1a" stroke="#1a1a1a" stroke-width="0.08" textLength="19.4" lengthAdjust="spacingAndGlyphs" transform="rotate(0.27 418.3 664.83)">size,</text>
<text x="443.3" y="664.95" font-family="Liberation Serif, serif" font-size="10.5" fill="#1a1a1a" stroke="#1a1a1a" stroke-width="0.08" textLength="59.6" lengthAdjust="spacingAndGlyphs" transform="rotate(0.27 443.3 664.95)">associativity,</text>
<text x="508.6" y="665.25" font-family="Liberation Serif, serif" font-size="10.5" fill="#1a1a1a" stroke="#1a1a1a" stroke-width="0.08" textLength="16.6" lengthAdjust="spacingAndGlyphs" transform="rotate(0.27 508.6 665.25)">and</text>
<text x="72.4" y="680.4" font-family="Liberation Serif, serif" font-size="10.5" fill="#1a1a1a" stroke="#1a1a1a" stroke-width="0.08" textLength="40.3" lengthAdjust="spacingAndGlyphs" transform="rotate(0.27 72.4 680.4)">provided</text>
<text x="116.9" y="680.61" font-family="Liberation Serif, serif" font-size="10.5" fill="#1a1a1a" stroke="#1a1a1a" stroke-width="0.08" textLength="36.8" lengthAdjust="spacingAndGlyphs" transform="rotate(0.27 116.9 680.61)">storage.</text>
<text x="294.4" y="726.6" font-family="Liberation Serif, serif" font-size="11" fill="#1a1a1a" stroke="#1a1a1a" stroke-width="0.08" textLength="10.2" lengthAdjust="spacingAndGlyphs" transform="rotate(0.27 294.4 726.6)">13</text>
</g></svg></body></html>
